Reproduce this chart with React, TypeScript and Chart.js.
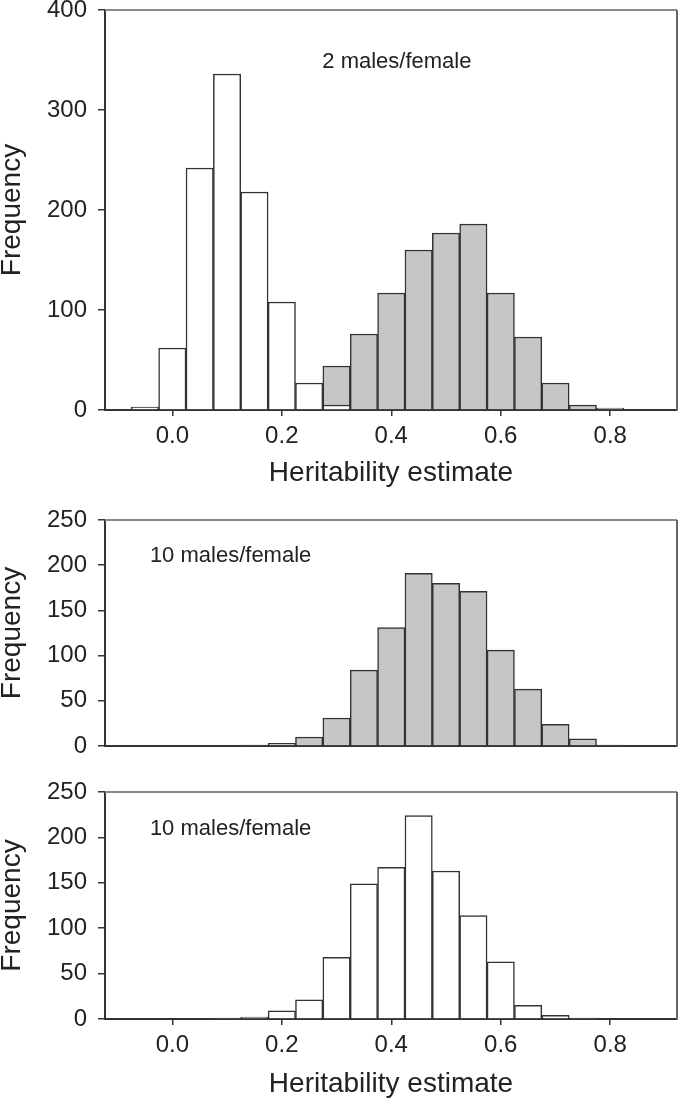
import React, { useEffect, useRef } from "react";
import { Chart, registerables } from "chart.js";

Chart.register(...registerables);

// ---------- data ----------
const binCenters = [
  -0.05, 0.0, 0.05, 0.1, 0.15, 0.2, 0.25, 0.3, 0.35, 0.4, 0.45, 0.5, 0.55, 0.6,
  0.65, 0.7, 0.75, 0.8,
];
const xTickValues = [0.0, 0.2, 0.4, 0.6, 0.8];

// panel 1: 2 males/female
const topWhite = [3, 62, 242, 336, 218, 108, 27, 5, 0, 0, 0, 0, 0, 0, 0, 0, 0, 0];
const topGray = [0, 0, 0, 0, 0, 0, 0, 44, 76, 117, 160, 177, 186, 117, 73, 27, 5, 2];
// panel 2: 10 males/female (grey)
const midGray = [0, 0, 0, 0, 1, 3, 10, 31, 84, 131, 191, 180, 171, 106, 63, 24, 8, 1];
// panel 3: 10 males/female (white)
const bottomWhite = [0, 0, 0, 1, 2, 9, 21, 68, 149, 167, 224, 163, 114, 63, 15, 4, 1, 0];

const topYTicks = { max: 400, step: 100 };
const lowerYTicks = { max: 250, step: 50 };

const X_MIN = -0.123;
const X_MAX = 0.922;

const FONT = '"Liberation Sans", Arial, Helvetica, sans-serif';
const TEXT = "#222";
const LINE = "#333";
const GREY_FILL = "#c6c6c6";
const WHITE_FILL = "#ffffff";

function toPoints(values: number[]) {
  return binCenters
    .map((x, i) => ({ x, y: values[i] }))
    .filter((p) => p.y > 0);
}

type Series = { values: number[]; fill: string };
type Note = { text: string; x: number; y: number };

type PanelProps = {
  width: number;
  height: number;
  top: number;
  series: Series[];
  yMax: number;
  yStep: number;
  padTop: number;
  xAxisHeight: number;
  showXLabels: boolean;
  showXTicks: boolean;
  xTitlePad: number;
  note: Note;
};

const framePlugin = {
  id: "frame",
  afterDraw(chart: any) {
    const { ctx, chartArea } = chart;
    ctx.save();
    ctx.lineWidth = 2;
    ctx.strokeStyle = "#8a8a8a";
    ctx.beginPath();
    ctx.moveTo(chartArea.left, chartArea.top);
    ctx.lineTo(chartArea.right, chartArea.top);
    ctx.stroke();
    ctx.strokeStyle = "#666";
    ctx.beginPath();
    ctx.moveTo(chartArea.right, chartArea.top);
    ctx.lineTo(chartArea.right, chartArea.bottom);
    ctx.stroke();
    ctx.restore();
  },
};

const notePlugin = {
  id: "note",
  afterDraw(chart: any, _args: any, opts: any) {
    if (!opts || !opts.text) return;
    const { ctx, scales } = chart;
    ctx.save();
    ctx.font = `22px ${FONT}`;
    ctx.fillStyle = TEXT;
    ctx.textAlign = "left";
    ctx.textBaseline = "alphabetic";
    ctx.fillText(
      opts.text,
      scales.x.getPixelForValue(opts.x),
      scales.y.getPixelForValue(opts.y)
    );
    ctx.restore();
  },
};

function Panel(props: PanelProps) {
  const ref = useRef<HTMLCanvasElement | null>(null);
  useEffect(() => {
    if (!ref.current) return;
    const chart = new Chart(ref.current, {
      type: "bar",
      data: {
        datasets: props.series.map((s) => ({
          data: toPoints(s.values) as any,
          backgroundColor: s.fill,
          borderColor: LINE,
          borderWidth: 1.5,
          borderSkipped: "start",
          grouped: false,
          categoryPercentage: 1,
          barPercentage: 1,
        })),
      },
      options: {
        responsive: false,
        animation: false,
        devicePixelRatio: 1,
        layout: { padding: { top: props.padTop, right: 2, left: 0, bottom: 0 } },
        plugins: {
          legend: { display: false },
          tooltip: { enabled: false },
          note: props.note,
        } as any,
        scales: {
          x: {
            type: "linear",
            min: X_MIN,
            max: X_MAX,
            offset: false,
            z: 1,
            afterBuildTicks: (s: any) => {
              s.ticks = xTickValues.map((v) => ({ value: v }));
            },
            afterFit: (s: any) => {
              s.height = props.xAxisHeight;
              s.paddingLeft = 0;
              s.paddingRight = 0;
            },
            grid: {
              display: props.showXTicks,
              offset: false,
              drawOnChartArea: false,
              drawTicks: true,
              tickLength: 6,
              color: LINE,
              lineWidth: 1.5,
            },
            border: { display: true, color: LINE, width: 2 },
            ticks: {
              display: props.showXLabels,
              padding: 6,
              autoSkip: false,
              maxRotation: 0,
              color: TEXT,
              font: { family: FONT, size: 24 },
              callback: (v: any) => Number(v).toFixed(1),
            },
            title: {
              display: props.showXLabels,
              text: "Heritability estimate",
              color: TEXT,
              font: { family: FONT, size: 28, lineHeight: 1.2 },
              padding: { top: 0, bottom: props.xTitlePad },
            },
          },
          y: {
            type: "linear",
            min: 0,
            max: props.yMax,
            z: 1,
            afterFit: (s: any) => {
              s.width = 105;
              s.paddingTop = 0;
              s.paddingBottom = 0;
            },
            grid: {
              display: true,
              offset: false,
              drawOnChartArea: false,
              drawTicks: true,
              tickLength: 7,
              color: LINE,
              lineWidth: 1.5,
            },
            border: { display: true, color: LINE, width: 2 },
            ticks: {
              stepSize: props.yStep,
              padding: 11,
              color: TEXT,
              font: { family: FONT, size: 24 },
            },
            title: {
              display: true,
              text: "Frequency",
              color: TEXT,
              font: { family: FONT, size: 28, lineHeight: 0.9 },
              padding: 0,
            },
          },
        },
      } as any,
      plugins: [framePlugin, notePlugin],
    });
    return () => chart.destroy();
  }, []);
  return (
    <div
      style={{
        position: "absolute",
        left: 0,
        top: props.top,
        width: props.width,
        height: props.height,
      }}
    >
      <canvas
        ref={ref}
        width={props.width}
        height={props.height}
        style={{ width: props.width, height: props.height, display: "block" }}
      />
    </div>
  );
}

export default function App() {
  return (
    <div
      style={{
        position: "absolute",
        left: 0,
        top: 0,
        width: 679,
        height: 1101,
        background: "#fff",
        overflow: "hidden",
      }}
    >
      <Panel
        width={679}
        height={500}
        top={0}
        series={[
          { values: topWhite, fill: WHITE_FILL },
          { values: topGray, fill: GREY_FILL },
        ]}
        yMax={topYTicks.max}
        yStep={topYTicks.step}
        padTop={10}
        xAxisHeight={90}
        showXLabels={true}
        showXTicks={true}
        xTitlePad={10}
        note={{ text: "2 males/female", x: 0.274, y: 342 }}
      />
      <Panel
        width={679}
        height={270}
        top={500}
        series={[{ values: midGray, fill: GREY_FILL }]}
        yMax={lowerYTicks.max}
        yStep={lowerYTicks.step}
        padTop={20}
        xAxisHeight={24}
        showXLabels={false}
        showXTicks={false}
        xTitlePad={0}
        note={{ text: "10 males/female", x: -0.041, y: 204 }}
      />
      <Panel
        width={679}
        height={331}
        top={770}
        series={[{ values: bottomWhite, fill: WHITE_FILL }]}
        yMax={lowerYTicks.max}
        yStep={lowerYTicks.step}
        padTop={22}
        xAxisHeight={82}
        showXLabels={true}
        showXTicks={true}
        xTitlePad={0}
        note={{ text: "10 males/female", x: -0.041, y: 203 }}
      />
    </div>
  );
}
